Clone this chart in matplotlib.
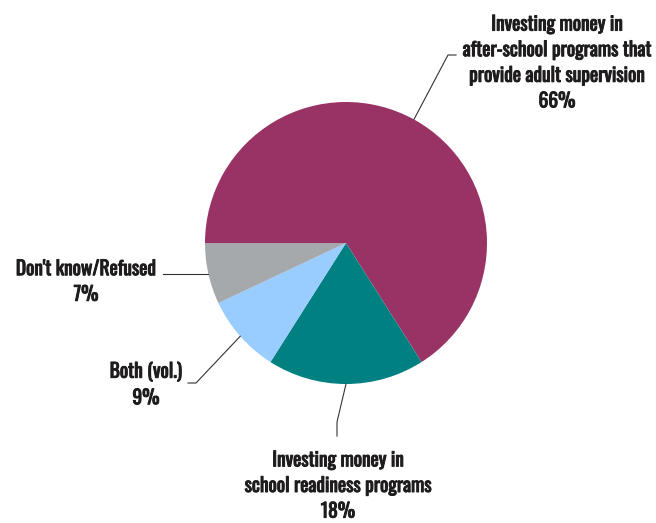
import numpy as np
import matplotlib
matplotlib.use("Agg")
import matplotlib.pyplot as plt
import matplotlib.patheffects as pe

plt.rcParams['font.family'] = ['Oswald', 'Barlow Condensed', 'DejaVu Sans']

labels = ["Investing money in\nafter-school programs that\nprovide adult supervision",
          "Investing money in\nschool readiness programs",
          "Both (vol.)",
          "Don't know/Refused"]
shares = [66, 18, 9, 7]
colors = ["#993366", "#008080", "#99ccff", "#a6a9ab"]

W, H = 656, 523
cx, cy, r = 346, H - 243, 141
txt = "#1e1c1d"

fig = plt.figure(figsize=(W / 100, H / 100), dpi=100)
ax = fig.add_axes([0, 0, 1, 1])

wedges, _ = ax.pie(shares, colors=colors, startangle=180, counterclock=False,
                   center=(cx, cy), radius=r, frame=True)
ax.set_xlim(0, W)
ax.set_ylim(0, H)
ax.set_aspect('equal')
ax.axis('off')

def edge(w):
    a = np.deg2rad((w.theta1 + w.theta2) / 2)
    return cx + r * np.cos(a), cy + r * np.sin(a)

# leader lines: from slice edge to label
lc = "#333333"
x0, y0 = edge(wedges[0])
ax.plot([x0, 448, 456], [y0, H - 55, H - 55], color=lc, lw=0.8)
x1, y1 = edge(wedges[1])
ax.plot([x1, 337, 337], [y1, H - 422, H - 436], color=lc, lw=0.8)
x2, y2 = edge(wedges[2])
ax.plot([x2, 196, 188], [y2, H - 383, H - 383], color=lc, lw=0.8)
x3, y3 = edge(wedges[3])
ax.plot([x3, 163], [y3, y3], color=lc, lw=0.8)

# thin stroke in the text colour to make the condensed face heavier
bold = [pe.withStroke(linewidth=0.7, foreground=txt)]
kw = dict(color=txt, fontsize=14, linespacing=1.33, ha='center', va='center',
          path_effects=bold)
ax.text(557, H - 62, labels[0] + "\n%d%%" % shares[0], **kw)
ax.text(338, H - 485, labels[1] + "\n%d%%" % shares[1], **kw)
ax.text(146, H - 384, labels[2] + "\n%d%%" % shares[2], **kw)
ax.text(86, H - 281, labels[3] + "\n%d%%" % shares[3], **kw)

fig.savefig("out.png", dpi=100)
